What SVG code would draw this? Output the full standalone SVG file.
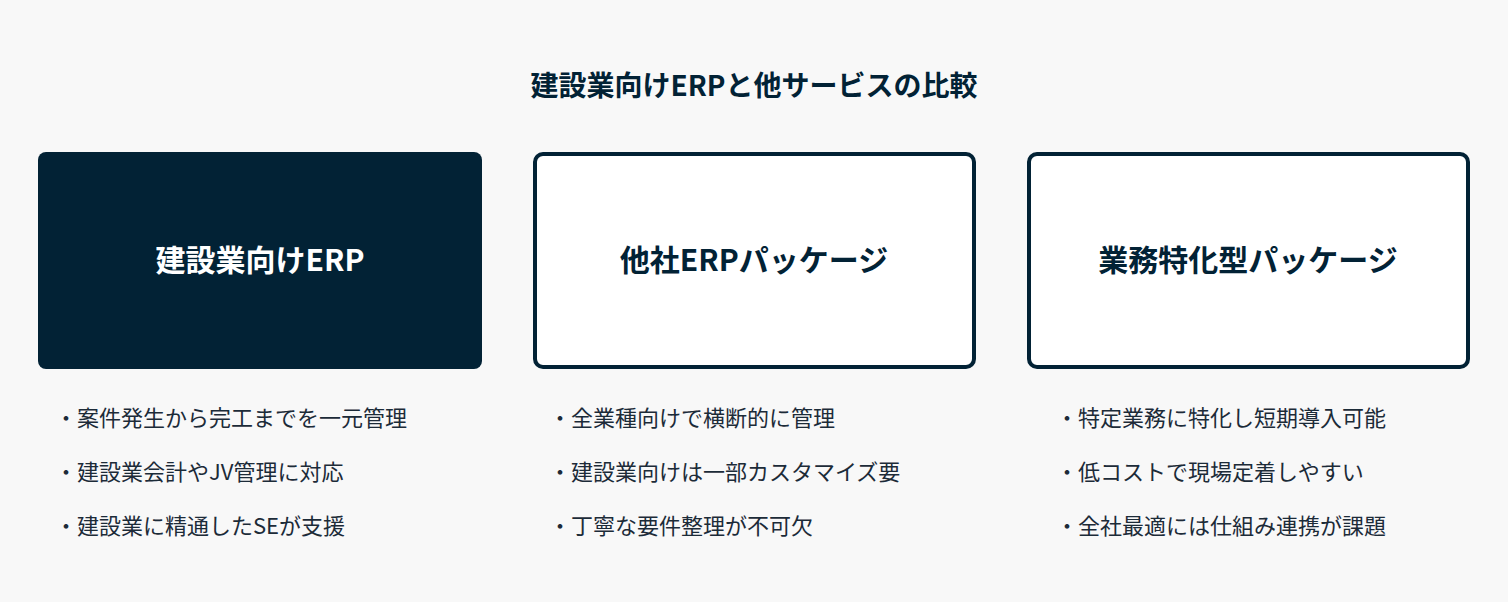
<svg xmlns="http://www.w3.org/2000/svg" width="1508" height="602" viewBox="0 0 1508 602">
<style>
.t{font-family:"Noto Sans CJK JP","Noto Sans",sans-serif;fill:#022235}
.h{font-size:28px;font-weight:bold}
.n{font-size:30px;font-weight:bold;text-anchor:middle}
.b{font-size:22px;fill:#1c2b38}
.box{fill:#fff;stroke:#022235;stroke-width:4}
</style>
<rect width="1508" height="602" fill="#f8f8f8"/>
<text class="t h" x="754" y="96" text-anchor="middle">建設業向けERPと他サービスの比較</text>
<g id="node1"><rect x="38" y="152" width="444" height="217" rx="8" fill="#022235"/><text class="t n" x="260" y="271" style="fill:#fff">建設業向けERP</text></g>
<g id="node2"><rect class="box" x="535" y="154" width="439" height="213" rx="8"/><text class="t n" x="754" y="271">他社ERPパッケージ</text></g>
<g id="node3"><rect class="box" x="1029" y="154" width="439" height="213" rx="8"/><text class="t n" x="1248" y="271">業務特化型パッケージ</text></g>
<g id="bullets1"><text class="t b" x="55" y="426">・案件発生から完工までを一元管理</text><text class="t b" x="55" y="480">・建設業会計やJV管理に対応</text><text class="t b" x="55" y="534">・建設業に精通したSEが支援</text></g>
<g id="bullets2"><text class="t b" x="549" y="426">・全業種向けで横断的に管理</text><text class="t b" x="549" y="480">・建設業向けは一部カスタマイズ要</text><text class="t b" x="549" y="534">・丁寧な要件整理が不可欠</text></g>
<g id="bullets3"><text class="t b" x="1056" y="426">・特定業務に特化し短期導入可能</text><text class="t b" x="1056" y="480">・低コストで現場定着しやすい</text><text class="t b" x="1056" y="534">・全社最適には仕組み連携が課題</text></g>
<g id="connectors"></g>
</svg>
